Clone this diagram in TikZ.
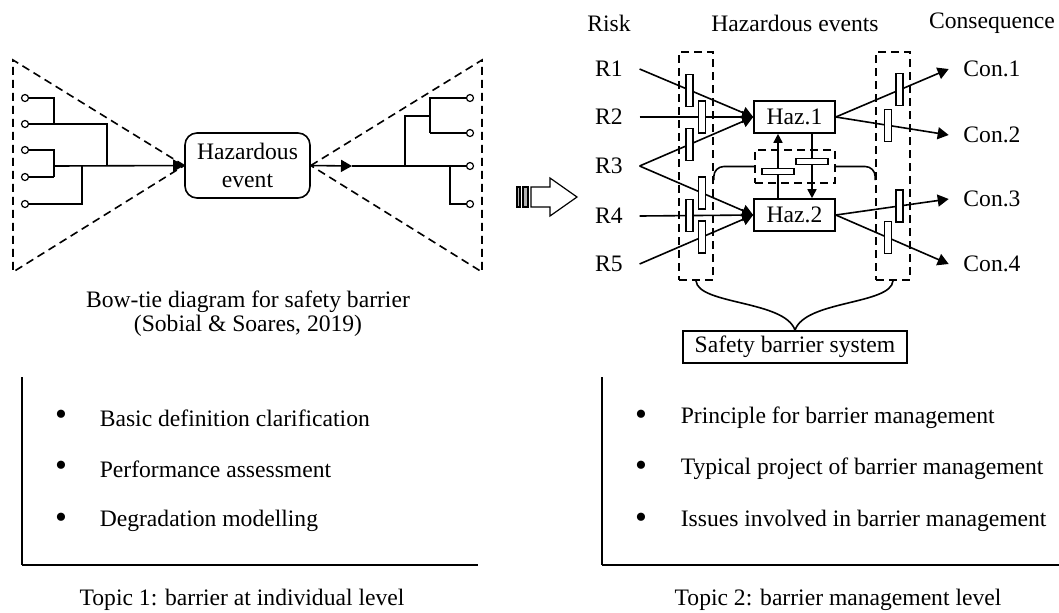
\documentclass[tikz,border=0pt]{standalone}
\usepackage{fontspec}
\setmainfont{Liberation Serif}
\usetikzlibrary{arrows.meta}

\begin{document}
\begin{tikzpicture}[x=0.5pt, y=-0.5pt, line width=0.8pt,
  font=\fontsize{11.8pt}{14pt}\selectfont,
  >={Triangle[length=5.5pt,width=6pt]},
  port/.style={draw, circle, fill=white, line width=0.6pt, inner sep=0pt, minimum size=3.5pt},
  haz/.style={draw, minimum width=40.5pt, minimum height=16pt, inner sep=1pt},
  vbar/.style={draw, fill=white, line width=0.6pt, minimum width=3.5pt, minimum height=16pt, inner sep=0pt},
  hbar/.style={draw, fill=white, line width=0.6pt, minimum width=16pt, minimum height=3pt, inner sep=0pt},
  barrierbox/.style={draw, dash pattern=on 4pt off 2.5pt, inner sep=0pt},
  dot/.style={font=\fontsize{17pt}{17pt}\selectfont},
  rlab/.style={inner xsep=8pt},
  clab/.style={inner xsep=7pt}]
\useasboundingbox (0,0) rectangle (1059,612);

\node[draw, rounded corners=6pt, align=center, inner sep=2pt, minimum width=62.5pt, minimum height=32.5pt] (he) at (247.5,165.5) {Hazardous\\event};
\coordinate (lt) at (13,60);
\coordinate (lb) at (13,272);
\coordinate (rt) at (482,60);
\coordinate (rb) at (482,272);
\path[draw,dash pattern=on 4pt off 2.5pt] (he.west) -- (lt) -- (lb) -- cycle;
\path[draw,dash pattern=on 4pt off 2.5pt] (he.east) -- (rt) -- (rb) -- cycle;

\node[port] (p1) at (25,98) {};
\node[port] (p2) at (25,124) {};
\node[port] (p3) at (25,150) {};
\node[port] (p4) at (25,177) {};
\node[port] (p5) at (25,204) {};
\coordinate (ja) at (54,124);
\coordinate (jb) at (107,166);
\coordinate (jc) at (54,177);
\coordinate (jd) at (82,166);
\coordinate (jm) at (54,166);
\path[draw] (p1) -| (ja);
\path[draw] (p2) -| (jb);
\path[draw] (p3) -| (jc);
\path[draw] (p4) -- (jc);
\path[draw] (p5) -| (jd);
\path[draw,->] (jm) -- (he.west);

\node[port] (q1) at (470,98) {};
\node[port] (q2) at (470,133) {};
\node[port] (q3) at (470,166) {};
\node[port] (q4) at (470,204) {};
\coordinate (ma) at (352,166);
\coordinate (ka) at (405,166);
\coordinate (kb) at (430,116);
\coordinate (kc) at (430,133);
\coordinate (kd) at (450,166);
\path[draw,->] (he.east) -- (ma);
\path[draw] (ma) -- (q3);
\path[draw] (ka) |- (kb);
\path[draw] (q1) -| (kc);
\path[draw] (kc) -- (q2);
\path[draw] (kd) |- (q4);

\node (cap1) at (248,302) {Bow-tie diagram for safety barrier};
\node (cap2) at (248,326) {(Sobial \& Soares, 2019)};

\path[draw,line width=0.6pt] (531,187) -- (550,187) -- (550,178) -- (577,197) -- (550,216) -- (550,207) -- (531,207) -- cycle;
\path[draw,fill=gray!60,line width=0.6pt] (517,187) rectangle (520,207);
\path[draw,fill=gray!60,line width=0.6pt] (523,187) rectangle (528,207);

\node (risk) at (609,23) {Risk};
\node (hzev) at (795,23) {Hazardous events};
\node (cons) at (992,23) {Consequence};

\node[rlab] (r1) at (609,69) {R1};
\node[rlab] (r2) at (609,117) {R2};
\node[rlab] (r3) at (609,166) {R3};
\node[rlab] (r4) at (609,216) {R4};
\node[rlab] (r5) at (609,264) {R5};
\node[haz] (h1) at (794.5,117) {Haz.1};
\node[haz] (h2) at (794.5,215) {Haz.2};
\node[clab] (c1) at (992,69) {Con.1};
\node[clab] (c2) at (992,135) {Con.2};
\node[clab] (c3) at (992,199) {Con.3};
\node[clab] (c4) at (992,264) {Con.4};

\node[barrierbox, minimum width=17pt, minimum height=114pt] (lbx) at (696,166) {};
\node[barrierbox, minimum width=17pt, minimum height=114pt] (rbx) at (893,166) {};
\node[barrierbox, minimum width=40pt, minimum height=16.5pt] (mbx) at (795,166.5) {};

\path[draw,->] (r1.east) -- node[vbar,pos=0.44] (b1) {} (h1.west);
\path[draw,->] (r2.east) -- node[vbar,pos=0.55] (b2) {} (h1.west);
\path[draw,->] (r3.east) -- node[vbar,pos=0.44] (b3) {} (h1.west);
\path[draw,->] (r3.east) -- node[vbar,pos=0.55] (b4) {} (h2.west);
\path[draw,->] (r4.east) -- node[vbar,pos=0.44] (b5) {} (h2.west);
\path[draw,->] (r5.east) -- node[vbar,pos=0.55] (b6) {} (h2.west);

\path[draw,->] (h1.east) -- node[vbar,pos=0.565] (d1) {} (c1.west);
\path[draw,->] (h1.east) -- node[vbar,pos=0.46] (d2) {} (c2.west);
\path[draw,->] (h2.east) -- node[vbar,pos=0.565] (d3) {} (c3.west);
\path[draw,->] (h2.east) -- node[vbar,pos=0.46] (d4) {} (c4.west);

\path[draw,->,>={Triangle[length=4.5pt,width=4.5pt]}] ([xshift=-8.25pt]h2.north) -- node[hbar,pos=0.42] (m1) {} ([xshift=-8.25pt]h1.south);
\path[draw,->,>={Triangle[length=4.5pt,width=4.5pt]}] ([xshift=8.75pt]h1.south) -- node[hbar,pos=0.43] (m2) {} ([xshift=8.75pt]h2.north);

\path[draw,rounded corners=5pt] (mbx.west) -| ([yshift=-7pt]lbx.east);
\path[draw,rounded corners=5pt] (mbx.east) -| ([yshift=-7pt]rbx.west);

\node[draw, minimum width=112pt, minimum height=16pt, inner sep=2pt] (sb) at (795,347) {Safety barrier system};
\path[draw] (lbx.south) .. controls +(2,24) and +(-10,-30) .. (sb.north);
\path[draw] (rbx.south) .. controls +(-2,24) and +(10,-30) .. (sb.north);

\coordinate (la) at (22,377);
\coordinate (lo) at (22,565);
\coordinate (lx) at (478,565);
\coordinate (ra) at (602,377);
\coordinate (ro) at (602,565);
\coordinate (rx) at (1059,565);
\path[draw] (la) -- (lo);
\path[draw,line width=1.2pt] (lo) -- (lx);
\path[draw] (ra) -- (ro);
\path[draw,line width=1.2pt] (ro) -- (rx);

\node[dot] (u1) at (61,418) {\textbullet};
\node[dot] (u2) at (61,469) {\textbullet};
\node[dot] (u3) at (61,521) {\textbullet};
\node[anchor=west,inner sep=0pt] (t1) at (99,418) {Basic definition clarification};
\node[anchor=west,inner sep=0pt] (t2) at (99,469) {Performance assessment};
\node[anchor=west,inner sep=0pt] (t3) at (99,521) {Degradation modelling};
\node[dot] (v1) at (641,418) {\textbullet};
\node[dot] (v2) at (641,469) {\textbullet};
\node[dot] (v3) at (641,521) {\textbullet};
\node[anchor=west,inner sep=0pt] (s1) at (680,418) {Principle for barrier management};
\node[anchor=west,inner sep=0pt] (s2) at (680,469) {Typical project of barrier management};
\node[anchor=west,inner sep=0pt] (s3) at (680,521) {Issues involved in barrier management};

\node (topic1) at (242,600) {Topic 1: barrier at individual level};
\node (topic2) at (838,600) {Topic 2: barrier management level};
\end{tikzpicture}
\end{document}
